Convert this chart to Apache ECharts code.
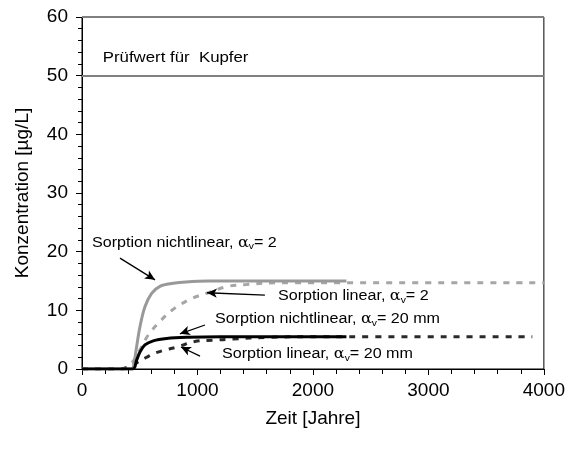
<!DOCTYPE html>
<html>
<head>
<meta charset="utf-8">
<script src="https://cdn.jsdelivr.net/npm/echarts@6/dist/echarts.min.js"></script>
<style>
  html, body { margin: 0; padding: 0; background: #fff; }
  #chart { width: 568px; height: 450px; }
</style>
</head>
<body>
<div id="chart"></div>
<script>
// Copper concentration over time for linear / non-linear sorption
const xTicks = [0, 1000, 2000, 3000, 4000];
const yTicks = [0, 10, 20, 30, 40, 50, 60];
const pruefwert = 50;

// [Zeit (Jahre), Konzentration (µg/L)]
const nichtlinear2 = [[0, 0], [430, 0], [450, 1.0], [473, 3.8], [502, 7.2], [545, 10.6], [603, 12.9],
  [675, 14.1], [790, 14.6], [900, 14.85], [1100, 15], [2290, 15]];
const linear2 = [[0, 0], [330, 0], [400, 0.5], [450, 1.5], [500, 3.2], [574, 5.8], [675, 8.1],
  [790, 10.2], [949, 12.0], [1093, 13.0], [1266, 14.1], [1425, 14.4], [1700, 14.7], [4000, 14.7]];
const nichtlinear20 = [[0, 0], [440, 0], [473, 1.5], [502, 2.9], [545, 4.1], [617, 4.8], [733, 5.2],
  [906, 5.4], [1200, 5.5], [2290, 5.5]];
const linear20 = [[0, 0], [330, 0], [400, 0.3], [487, 1.2], [560, 2.0], [631, 2.7], [733, 3.3],
  [833, 3.8], [977, 4.7], [1135, 4.9], [1306, 5.1], [1600, 5.4], [2000, 5.5], [3900, 5.5]];

// Callouts: text anchor (left, middle) and arrow from -> to, all in data units
const callouts = [
  { text: 'Sorption nichtlinear, {g|α}{s|v}= 2', at: [87, 21.5], from: [329, 18.9], to: [632, 15.2] },
  { text: 'Sorption linear, {g|α}{s|v}= 2', at: [1697, 12.35], from: [1584, 12.6], to: [1082, 13.0] },
  { text: 'Sorption nichtlinear, {g|α}{s|v}= 20 mm', at: [1152, 8.5], from: [1065, 7.5], to: [848, 6.0] },
  { text: 'Sorption linear, {g|α}{s|v}= 20 mm', at: [1212, 2.55], from: [1022, 2.2], to: [857, 3.75] }
];
const pruefLabel = { text: 'Prüfwert für  Kupfer', at: [180, 53] };

const font = 'Liberation Sans, Arial, sans-serif';
const chart = echarts.init(document.getElementById('chart'), null, { renderer: 'canvas' });

const richText = {
  g: { fontFamily: 'DejaVu Serif, serif', fontSize: 14, fill: '#000' },
  s: { fontFamily: font, fontSize: 9, padding: [8, 0, 0, 0], fill: '#000' }
};

chart.setOption({
  animation: false,
  backgroundColor: '#fff',
  grid: { left: 82, right: 24, top: 17, bottom: 81, show: true, borderColor: '#000', borderWidth: 1 },
  xAxis: {
    type: 'value', min: xTicks[0], max: xTicks[xTicks.length - 1], interval: 1000,
    name: 'Zeit [Jahre]', nameLocation: 'middle', nameGap: 40,
    nameTextStyle: { fontFamily: font, fontSize: 19, color: '#000' },
    axisLine: { lineStyle: { color: '#000', width: 1 } },
    axisTick: { length: 6, lineStyle: { color: '#000' } },
    minorTick: { show: true, splitNumber: 5, length: 5, lineStyle: { color: '#000' } },
    axisLabel: { fontFamily: font, fontSize: 19, color: '#000', margin: 12, formatter: v => String(v) },
    splitLine: { show: false }
  },
  yAxis: {
    type: 'value', min: yTicks[0], max: yTicks[yTicks.length - 1], interval: 10,
    name: 'Konzentration [µg/L]', nameLocation: 'middle', nameGap: 50,
    nameTextStyle: { fontFamily: font, fontSize: 19, color: '#000' },
    axisLine: { lineStyle: { color: '#000', width: 1 } },
    axisTick: { length: 6, lineStyle: { color: '#000' } },
    minorTick: { show: true, splitNumber: 5, length: 4, lineStyle: { color: '#000' } },
    axisLabel: { fontFamily: font, fontSize: 19, color: '#000', margin: 14 },
    splitLine: { show: false }
  },
  series: [
    {
      name: 'Sorption linear, αv = 2', type: 'line', data: linear2, showSymbol: false, smooth: 0.35,
      lineStyle: { color: '#a6a6a6', width: 3, type: [6, 7] }, z: 2
    },
    {
      name: 'Sorption linear, αv = 20 mm', type: 'line', data: linear20, showSymbol: false, smooth: 0.35,
      lineStyle: { color: '#2a2a2a', width: 3, type: [6, 7] }, z: 2
    },
    {
      name: 'Sorption nichtlinear, αv = 2', type: 'line', data: nichtlinear2, showSymbol: false, smooth: 0.35,
      lineStyle: { color: '#999999', width: 3 }, z: 3,
      markLine: {
        silent: true, symbol: 'none',
        lineStyle: { color: '#808080', width: 2, type: 'solid' },
        label: { show: false },
        data: [{ yAxis: pruefwert }, { yAxis: yTicks[yTicks.length - 1] }]
      }
    },
    {
      name: 'Sorption nichtlinear, αv = 20 mm', type: 'line', data: nichtlinear20, showSymbol: false, smooth: 0.35,
      lineStyle: { color: '#000', width: 3 }, z: 3,
      markLine: {
        silent: true, symbol: ['none', 'arrow'], symbolSize: [7, 10],
        lineStyle: { color: '#000', width: 1.3, type: 'solid' },
        label: { show: false },
        data: callouts.map(c => [{ coord: c.from }, { coord: c.to }])
      }
    }
  ]
});

// Text labels placed through the axis scales
const graphics = callouts.map(c => {
  const p = chart.convertToPixel({ gridIndex: 0 }, c.at);
  return {
    type: 'text', x: p[0], y: p[1], scaleX: 1.15, z: 10,
    style: {
      text: c.text, fontFamily: font, fontSize: 14, fill: '#000',
      verticalAlign: 'middle', align: 'left', rich: richText
    }
  };
});
const pp = chart.convertToPixel({ gridIndex: 0 }, pruefLabel.at);
graphics.push({
  type: 'text', x: pp[0], y: pp[1], scaleX: 1.2, z: 10,
  style: { text: pruefLabel.text, fontFamily: font, fontSize: 14, fill: '#000', verticalAlign: 'middle', align: 'left' }
});
chart.setOption({ graphic: graphics });
</script>
</body>
</html>
